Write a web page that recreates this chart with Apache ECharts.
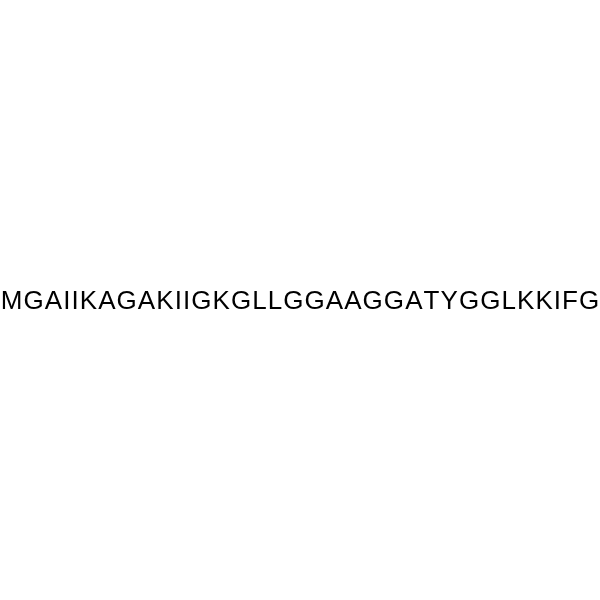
<!DOCTYPE html>
<html>
<head>
<meta charset="utf-8">
<script src="https://cdn.jsdelivr.net/npm/echarts@6/dist/echarts.min.js"></script>
<style>
  html, body { margin: 0; padding: 0; background: #fff; }
  #chart { width: 600px; height: 600px; }
</style>
</head>
<body>
<div id="chart"></div>
<script>
// peptide sequence, one letter per residue
const residues = ['M','G','A','I','I','K','A','G','A','K','I','I','G','K','G','L','L',
  'G','G','A','A','G','G','A','T','Y','G','G','L','K','K','I','F','G']

// each residue is its own rich-text token so the letters get a little air between them
const seqText = residues.map(r => '{r|' + r + '}').join('')

const chart = echarts.init(document.getElementById('chart'))
chart.setOption({
  backgroundColor: '#fff',
  animation: false,
  graphic: [{
    type: 'text',
    left: 'center',
    top: 288.5,
    style: {
      text: seqText,
      fontFamily: 'Liberation Sans, Arial, sans-serif',
      fontSize: 26,
      fill: '#000',
      rich: {
        r: {
          fontFamily: 'Liberation Sans, Arial, sans-serif',
          fontSize: 26,
          lineHeight: 26,
          padding: [0, 0.53, 0, 0.53],
          fill: '#000'
        }
      }
    }
  }]
})
</script>
</body>
</html>
